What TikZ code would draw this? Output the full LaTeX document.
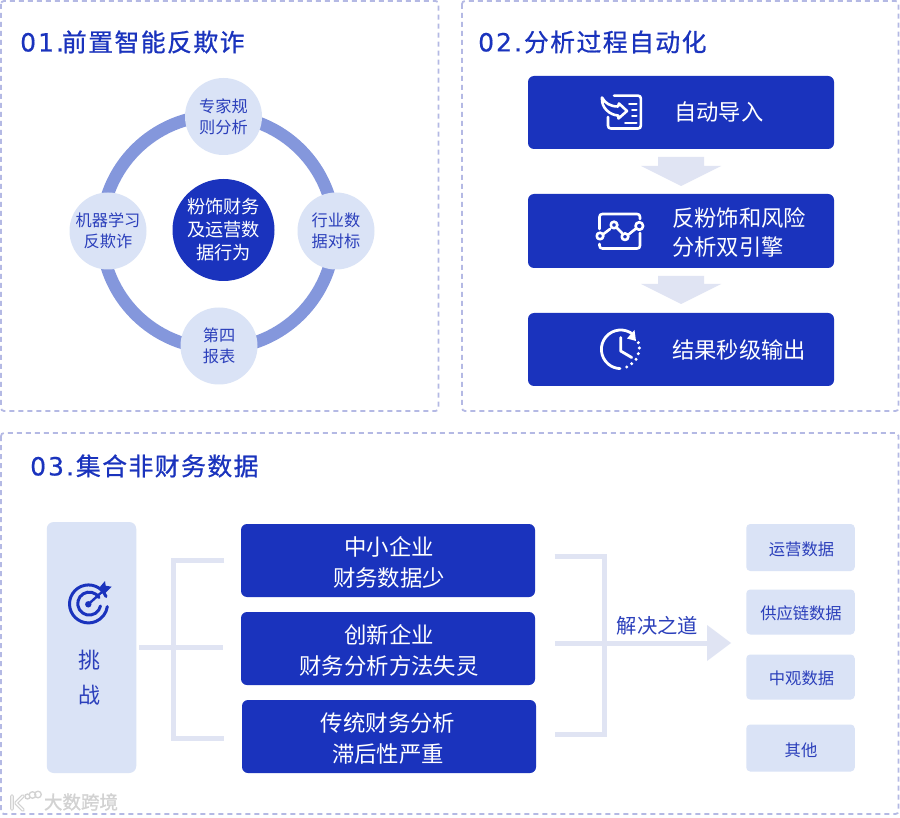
\documentclass[tikz,border=0pt]{standalone}
\usepackage{fontspec}
\setmainfont{Noto Sans CJK SC}
\newfontfamily\ttlfont[LetterSpace=6,FakeBold=0.8]{Noto Sans CJK SC}
\newfontfamily\ttldig[LetterSpace=8,FakeBold=0.5]{DejaVu Sans}
\newfontfamily\wmfont[FakeBold=1.2]{Noto Sans CJK SC}
\newcommand{\ttlnum}[1]{{\ttldig\fontsize{25}{28}\selectfont #1}}
\definecolor{bluemain}{HTML}{1A33BD}
\definecolor{lightfill}{HTML}{DAE3F6}
\definecolor{ringcol}{HTML}{8497DC}
\definecolor{linkcol}{HTML}{E0E4F3}
\definecolor{dashcol}{HTML}{B4B9E4}
\definecolor{softtext}{HTML}{2B3FBB}
\definecolor{wmark}{HTML}{D2D2D2}
\tikzset{
  panel/.style={draw=dashcol,line width=1.8pt,dash pattern=on 5pt off 4pt,rounded corners=3pt},
  ttl/.style={anchor=west,inner sep=0pt,text=bluemain,font=\ttlfont\fontsize{24.8}{28}\selectfont},
  smallcirc/.style={circle,fill=lightfill,minimum size=77pt,inner sep=0pt,align=center,text=softtext,font=\fontsize{16.2}{21}\selectfont},
  midcirc/.style={circle,fill=bluemain,minimum size=102pt,inner sep=0pt,align=center,text=white,font=\fontsize{18.2}{23}\selectfont},
  bluebox/.style={rectangle,rounded corners=6pt,fill=bluemain,inner sep=0pt,minimum width=294pt,minimum height=73pt},
  boxlabel/.style={inner sep=0pt,align=center,text=white,font=\fontsize{22.4}{31}\selectfont},
  steplabel/.style={anchor=west,inner sep=0pt,align=left,text=white,font=\fontsize{22.3}{29}\selectfont},
  lightbox/.style={rectangle,rounded corners=4pt,fill=lightfill,inner sep=0pt,minimum width=108.5pt},
  lightlabel/.style={inner sep=0pt,text=softtext,font=\fontsize{16.3}{20}\selectfont},
  ringline/.style={draw=ringcol,line width=12.5pt},
  linkline/.style={draw=linkcol,line width=5pt},
  iconw/.style={draw=white,line width=2.6pt,line cap=round,line join=round},
  iconb/.style={draw=bluemain,line width=3pt,line cap=round,line join=round},
}
\begin{document}
\begin{tikzpicture}[x=1pt,y=-1pt]
\useasboundingbox (0,0) rectangle (900,818);
\fill[white] (0,0) rectangle (900,818);
% panels
\draw[panel] (1,1) rectangle (438.5,411);
\draw[panel] (462,1) rectangle (898.5,411);
\draw[panel] (1,433) rectangle (898.5,814);
% titles
\node[ttl] (t1) at (20,42) {\ttlnum{01.}\kern-2pt 前置智能反欺诈};
\node[ttl] (t2) at (478,42) {\ttlnum{02.}\kern2pt 分析过程自动化};
\node[ttl] (t3) at (30,466) {\ttlnum{03.}\kern2pt 集合非财务数据};
% panel 1
\coordinate (ringc) at (218,232);
\draw[ringline] (ringc) circle (116.5);
\node[smallcirc] (nTop) at (223.5,116.5) {专家规\\则分析};
\node[smallcirc] (nRight) at (336,231) {\raisebox{-1.5pt}{行业数}\\\raisebox{-1.5pt}{据对标}};
\node[smallcirc] (nLeft) at (108,231) {\raisebox{-1.5pt}{机器学习}\\\raisebox{-1.5pt}{反欺诈}};
\node[smallcirc] (nBottom) at (219,346) {\raisebox{-1pt}{第四}\\\raisebox{-1pt}{报表}};
\node[midcirc] (nMid) at (223.5,230) {\raisebox{-1pt}{粉饰财务}\\\raisebox{-1pt}{及运营数}\\\raisebox{-1pt}{据行为}};
% panel 2
\node[bluebox,minimum width=306pt,minimum height=73pt] (s1) at (681,112.5) {};
\node[bluebox,minimum width=306pt,minimum height=74pt] (s2) at (681,231) {};
\node[bluebox,minimum width=306pt,minimum height=73pt] (s3) at (681,349.5) {};
\node[steplabel] (s1t) at (674,112) {自动导入};
\node[steplabel] (s2t) at (672,232) {反粉饰和风险\\分析双引擎};
\node[steplabel] (s3t) at (672,350.5) {结果秒级输出};
\fill[linkcol] (658,157) -- (704,157) -- (704,166) -- (721,166) -- (681,186) -- (641,166) -- (658,166) -- cycle;
\fill[linkcol] (658,276) -- (704,276) -- (704,284) -- (721,284) -- (681,304) -- (641,284) -- (658,284) -- cycle;
% icon 1
\draw[iconw] (614,95.7) -- (638,95.7) .. controls (640,95.7) and (640.8,96.5) .. (640.8,98.5) -- (640.8,125.5) .. controls (640.8,127.5) and (640,128.5) .. (638,128.5) -- (611,128.5) .. controls (609,128.5) and (608,127.5) .. (608,125.5) -- (608,117);
\draw[iconw] (602,97.5) .. controls (605,103) and (610,106.5) .. (618,106.5) -- (619,103.5) -- (627,111) -- (618.5,118.5) -- (618,115.5) .. controls (610,115) and (601,108) .. (602,97.5) -- cycle;
\draw[iconw,line width=2pt] (629,104.3) -- (636.5,104.3) (632,110) -- (636.5,110) (632,116) -- (636.5,116) (625,123.3) -- (636.5,123.3);
% icon 2
\draw[iconw] (599.5,229) -- (599.5,217) .. controls (599.5,215) and (600.5,214) .. (602.5,214) -- (637,214) .. controls (639,214) and (640,215) .. (640,217) -- (640,219);
\draw[iconw] (599.5,244) -- (599.5,245.5) .. controls (599.5,247.5) and (600.5,248.5) .. (602.5,248.5) -- (637,248.5) .. controls (639,248.5) and (640,247.5) .. (640,245.5) -- (640,233);
\draw[iconw] (603.5,234) -- (610,229) (617,228) -- (622,233) (628.5,234.5) -- (636,228.5);
\filldraw[iconw,fill=bluemain] (600,236) circle (3.3) (614,225) circle (3.3) (625,236.7) circle (3.3) (639.3,226) circle (3.8);
% icon 3
\draw[iconw,line width=2.8pt] (620.7,349.3) ++(-50:19.3) arc[start angle=-50,end angle=-268,radius=19.3];
\foreach \px/\py in {638.3/342.7,639.3/348,638.3/353.7,636/359.3,631.7/363.7,626.7/367}
  \fill[white] (\px,\py) circle (1.7);
\draw[iconw,line width=2.8pt] (620.7,337.5) -- (620.7,351) -- (631.7,357.5);
\fill[white] (634.5,330) -- (636,341) -- (627,338.5) -- cycle;
% panel 3
\node[rectangle,rounded corners=7pt,fill=lightfill,minimum width=89.5pt,minimum height=251pt,inner sep=0pt] (ch) at (91.5,647.5) {};
\node[inner sep=0pt,align=center,text=softtext,font=\fontsize{22}{35}\selectfont] (cht) at (89,677.5) {挑\\战};
% target icon
\draw[iconb] (106,596.5) arc[start angle=-23,end angle=-352,radius=19];
\draw[iconb] (99,597.5) arc[start angle=-32,end angle=-348,radius=11.5];
\draw[iconb,line width=2.4pt] (88.3,604.3) -- (103,591);
\fill[bluemain] (88.3,604.3) circle (3.2);
\fill[bluemain] (99.3,587.7) -- (105,581) -- (105.7,585.7) -- (111.7,586.7) -- (105,593.3) -- cycle;
\node[bluebox] (b1) at (388,560.5) {};
\node[bluebox] (b2) at (388,648.5) {};
\node[bluebox] (b3) at (389,736.5) {};
\node[boxlabel] (b1t) at (389,562.5) {中小企业\\财务数据少};
\node[boxlabel] (b2t) at (389,650.5) {创新企业\\财务分析方法失灵};
\node[boxlabel] (b3t) at (388,738.5) {传统财务分析\\滞后性严重};
\coordinate (la) at (224,560.5);
\coordinate (lb) at (223,647);
\coordinate (lc) at (224,738);
\coordinate (lm) at (139,647);
\draw[linkline] (la) -- (173.5,560.5) -- (173.5,738) -- (lc);
\draw[linkline] (lm) -- (lb);
\coordinate (ra) at (554.5,556);
\coordinate (rb) at (555,643);
\coordinate (rc) at (554.5,734);
\draw[linkline] (ra) -- (604,556) -- (604,734) -- (rc);
\coordinate (tipc) at (731,643);
\draw[linkline] (rb) -- (708,643);
\fill[linkcol] (707,625) -- (tipc) -- (707,661) -- cycle;
\node[inner sep=0pt,text=softtext,font=\fontsize{20.3}{24}\selectfont] (way) at (657.5,626) {解决之道};
\node[lightbox,minimum height=47pt] (d1) at (800.5,547.5) {};
\node[lightbox,minimum height=45pt] (d2) at (800.5,612) {};
\node[lightbox,minimum height=45pt] (d3) at (800.5,677) {};
\node[lightbox,minimum height=47pt] (d4) at (800.5,748) {};
\node[lightlabel] (d1t) at (801.5,549.5) {运营数据};
\node[lightlabel] (d2t) at (801,613) {供应链数据};
\node[lightlabel] (d3t) at (801.5,678) {中观数据};
\node[lightlabel] (d4t) at (801,750) {其他};
% watermark
\node[inner sep=0pt,text=wmark,font=\wmfont\fontsize{18.5}{20}\selectfont] (wm) at (81,802) {大数跨境};
\draw[wmark,line width=3.6pt,line cap=round,line join=round] (12,796) -- (12,809) (23,796) -- (16,803) -- (23,810);
\draw[white,line width=1.4pt,line cap=round,line join=round] (12,796) -- (12,809) (23,796) -- (16,803) -- (23,810);
\draw[wmark,line width=1.3pt] (27.5,796.5) circle (2.5) (32.5,795) circle (3.3) (38,794.5) circle (3.3);
\end{tikzpicture}
\end{document}
